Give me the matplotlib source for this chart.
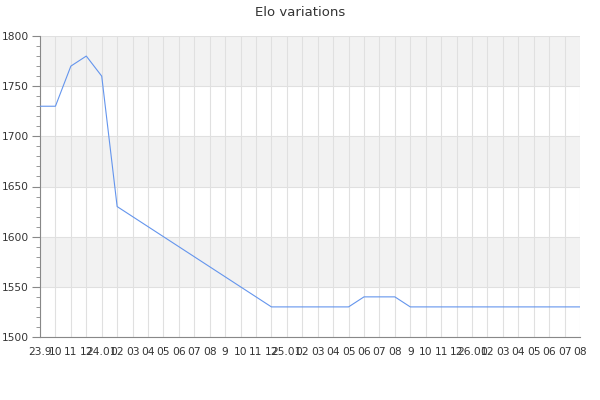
import matplotlib
matplotlib.use('Agg')
import matplotlib.pyplot as plt
from matplotlib.ticker import MultipleLocator

# Monthly tick labels, Sep 2023 .. Aug 2026
month_labels = ['23.9', '10', '11', '12',
                '24.01', '02', '03', '04', '05', '06', '07', '08', '9', '10', '11', '12',
                '25.01', '02', '03', '04', '05', '06', '07', '08', '9', '10', '11', '12',
                '26.01', '02', '03', '04', '05', '06', '07', '08']

# Elo rating per month
elo = [1730, 1730, 1770, 1780,
       1760, 1630, 1620, 1610, 1600, 1590, 1580, 1570, 1560, 1550, 1540, 1530,
       1530, 1530, 1530, 1530, 1530, 1540, 1540, 1540, 1530, 1530, 1530, 1530,
       1530, 1530, 1530, 1530, 1530, 1530, 1530, 1530]

x = list(range(len(month_labels)))

fig = plt.figure(figsize=(6, 4), dpi=100)
ax = fig.add_axes([40 / 600, 63 / 400, 540 / 600, 301 / 400])

# alternating horizontal bands
for lo in range(1550, 1800, 100):
    ax.axhspan(lo, lo + 50, color='#f2f2f2', zorder=0, lw=0)

ax.plot(x, elo, color='#6495ed', lw=0.8, zorder=3)

ax.set_xlim(0, len(x) - 1)
ax.set_ylim(1500, 1800)
ax.set_xticks(x)
ax.set_xticklabels(month_labels)
ax.yaxis.set_major_locator(MultipleLocator(50))
ax.yaxis.set_minor_locator(MultipleLocator(10))

ax.grid(True, which='major', color='#e0e0e0', lw=0.8, zorder=1)
ax.set_axisbelow(True)

for side in ['top', 'right']:
    ax.spines[side].set_visible(False)
for side in ['left', 'bottom']:
    ax.spines[side].set_color('#888888')

ax.tick_params(axis='x', length=0, pad=7, labelsize=7.7, colors='#333333')
ax.tick_params(axis='y', which='major', length=6, color='#888888', labelsize=7.7,
               labelcolor='#333333', pad=2)
ax.tick_params(axis='y', which='minor', length=3, color='#888888')

fig.text(0.5, 1 - 12 / 400, 'Elo variations', ha='center', va='center',
         fontsize=9.5, color='#333333')

fig.savefig('out.png', dpi=100)
